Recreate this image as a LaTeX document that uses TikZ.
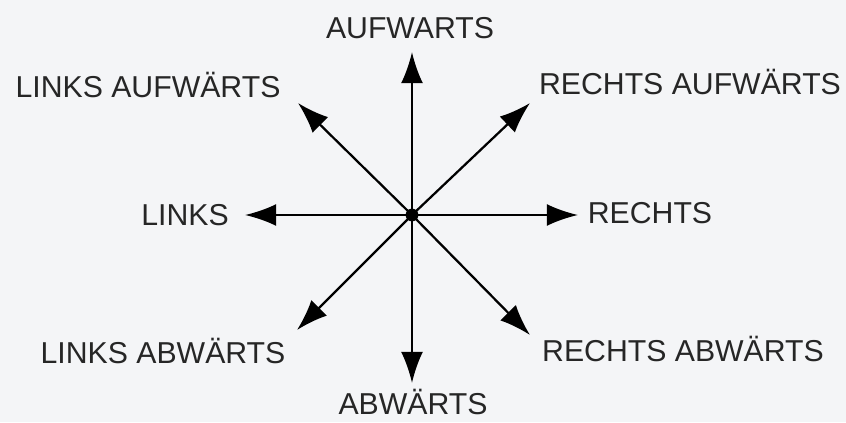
\documentclass[tikz,border=0pt]{standalone}
\usepackage{fontspec}
\setmainfont{Liberation Sans}
\usetikzlibrary{arrows.meta,positioning}
\definecolor{paper}{HTML}{F4F5F7}

\begin{document}
\begin{tikzpicture}[x=0.025cm, y=0.025cm,
  lbl/.style={font=\fontsize{21.5}{24}\selectfont, text=black!85, inner sep=0pt, anchor=base},
  dir/.style={-{Latex[length=0.78cm, width=0.55cm]}, line width=1.6pt},
  hub/.style={circle, fill=black, inner sep=0pt, minimum size=0.32cm}
]
\fill[paper] (-412,-207) rectangle (434,215);
\useasboundingbox (-412,-207) rectangle (434,215);

\node[hub] (c) at (0,0) {};

% arrow tips
\coordinate (n)  at (0,163);
\coordinate (s)  at (0,-168);
\coordinate (w)  at (-167,0);
\coordinate (e)  at (166,0);
\coordinate (nw) at (-114,112);
\coordinate (ne) at (118,112);
\coordinate (sw) at (-115,-115);
\coordinate (se) at (118,-120);

\foreach \t in {n,s,w,e,nw,ne,sw,se}
  \draw[dir] (c.center) -- (\t);

% labels
\node[lbl] (up)    at (-2,177)    {AUFWARTS};
\node[lbl] (down)  at (1,-199)    {ABWÄRTS};
\node[lbl] (left)  at (-227,-10)  {LINKS};
\node[lbl] (right) at (238,-8)    {RECHTS};
\node[lbl] (upl)   at (-264,118)  {LINKS AUFWÄRTS};
\node[lbl] (upr)   at (278,121)   {RECHTS AUFWÄRTS};
\node[lbl] (dnl)   at (-249,-148) {LINKS ABWÄRTS};
\node[lbl] (dnr)   at (271,-146)  {RECHTS ABWÄRTS};
\end{tikzpicture}
\end{document}
